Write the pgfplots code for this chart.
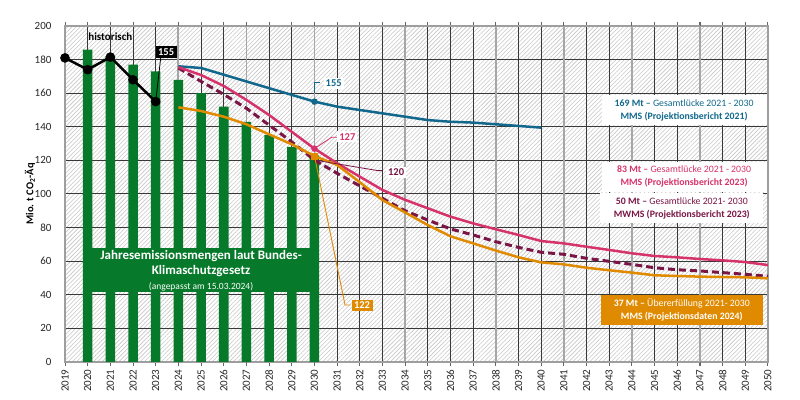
\documentclass[border=0pt]{standalone}
\usepackage{fontspec}
\setmainfont{Carlito}
\usepackage{pgfplots}
\pgfplotsset{compat=1.18}
\usetikzlibrary{patterns.meta}

\definecolor{kgreen}{RGB}{6,122,42}
\definecolor{mblue}{RGB}{18,104,140}
\definecolor{mpink}{RGB}{214,51,108}
\definecolor{mwine}{RGB}{122,22,70}
\definecolor{morange}{RGB}{224,138,0}

\begin{document}
\begin{tikzpicture}
\begin{axis}[
  name=ax,
  scale only axis,
  width=703pt, height=336pt,
  xmin=2019, xmax=2050, ymin=0, ymax=200,
  xtick={2019,...,2050},
  ytick={0,20,...,200},
  grid=major,
  major grid style={line width=1pt, black!78},
  axis line style={line width=1.6pt, black!38},
  tick align=outside,
  xtick style={line width=0.9pt, black!60},
  ytick style={draw=none},
  major tick length=4pt,
  /pgf/number format/assume math mode=true,
  /pgf/number format/1000 sep={},
  x tick label style={rotate=90, anchor=east, font=\fontsize{11}{12}\selectfont, text=black!85},
  y tick label style={font=\fontsize{11}{12}\selectfont, text=black!85, xshift=-6pt},
  ylabel={\textbf{Mio. t CO\textsubscript{2}-Äq}},
  ylabel style={at={(axis description cs:-0.05,0.5)}, anchor=center, font=\fontsize{10.5}{12}\selectfont},
  axis background/.style={fill=white, postaction={pattern={Lines[angle=45,distance=3pt,line width=0.6pt]}, pattern color=black!22}},
  extra x ticks={2024,2027,2030,2034,2038,2041,2044,2047},
  extra x tick labels={,,,,,,,},
  extra x tick style={grid=major, major grid style={line width=1.8pt, black!35}},
]

% Jahresemissionsmengen KSG
\addplot[ybar, bar width=0.42, fill=kgreen, draw=none] coordinates {
  (2020,186) (2021,182) (2022,177) (2023,173) (2024,168) (2025,160)
  (2026,152) (2027,143) (2028,135) (2029,128) (2030,123)
};

\fill[kgreen] (axis cs:2019.8,41.8) rectangle (axis cs:2030.2,68);
\node[text=white, align=center, font=\bfseries\fontsize{13}{15}\selectfont] at (axis cs:2025,54.5)
  {Jahresemissionsmengen laut Bundes-\\Klimaschutzgesetz\\{\mdseries\fontsize{9.5}{15}\selectfont (angepasst am 15.03.2024)}};

% historisch
\addplot[black, line width=2.5pt, mark=*, mark size=3.5pt] coordinates {
  (2019,181) (2020,174) (2021,181.5) (2022,168) (2023,155)
};

% MMS Projektionsbericht 2021
\addplot[mblue, line width=2.5pt] coordinates {
  (2024,176) (2025,175) (2026,171) (2027,167) (2028,163) (2029,159) (2030,155)
  (2031,152) (2032,150) (2033,148) (2034,146) (2035,144) (2036,143)
  (2037,142.5) (2038,141.5) (2039,140.5) (2040,139.5)
};

% MWMS Projektionsbericht 2023
\addplot[mwine, line width=3pt, dash pattern=on 7pt off 4pt] coordinates {
  (2024,175) (2025,167) (2026,159.3) (2027,151) (2028,141) (2029,131) (2030,120.2)
  (2031,112.3) (2032,104.8) (2033,97.4) (2034,90) (2035,84.5) (2036,79.2)
  (2037,75.6) (2038,71.6) (2039,68.2) (2040,65.3) (2041,64.1) (2042,61.7)
  (2043,59.9) (2044,58.1) (2045,56.1) (2046,54.9) (2047,54.2) (2048,53.2)
  (2049,52.2) (2050,51)
};

% MMS Projektionsbericht 2023
\addplot[mpink, line width=2.5pt] coordinates {
  (2024,175.5) (2025,170.8) (2026,164.3) (2027,156) (2028,147) (2029,137) (2030,127)
  (2031,118.3) (2032,110.3) (2033,102.4) (2034,96.5) (2035,91.5) (2036,86.5)
  (2037,82.5) (2038,79) (2039,75.6) (2040,72) (2041,70.6) (2042,68.6)
  (2043,66.7) (2044,64.7) (2045,63.1) (2046,62.3) (2047,61.3) (2048,60.5)
  (2049,59.5) (2050,57.7)
};

% MMS Projektionsdaten 2024
\addplot[morange, line width=2.5pt] coordinates {
  (2024,151.6) (2025,149.4) (2026,146) (2027,141.5) (2028,135.5) (2029,129.6) (2030,122.6)
  (2031,117.3) (2032,107) (2033,96.4) (2034,89) (2035,81.5) (2036,74.8)
  (2037,70.6) (2038,66.3) (2039,62.3) (2040,59.3) (2041,58.1) (2042,56.1)
  (2043,54.6) (2044,53.2) (2045,51.6) (2046,51.2) (2047,50.8) (2048,50.6)
  (2049,50.4) (2050,49.8)
};

% 2030 points
\addplot[only marks, mark=*, mark size=3pt, mblue] coordinates {(2030,155)};
\addplot[only marks, mark=*, mark size=3pt, mpink] coordinates {(2030,127)};
\addplot[only marks, mark=square*, mark size=3pt, morange] coordinates {(2030,122.6)};

% annotations
\node[font=\bfseries\fontsize{11}{12}\selectfont] at (axis cs:2021,193.5) {historisch};

\draw[black, line width=0.8pt] (axis cs:2023,155) -- (axis cs:2023.22,181);
\node[fill=black, text=white, inner sep=2.5pt, font=\bfseries\fontsize{10.5}{12}\selectfont] at (axis cs:2023.46,184.7) {155};

\draw[mblue, line width=0.8pt] (axis cs:2030,160) -- (axis cs:2030,166.4) -- (axis cs:2030.25,166.4);
\node[fill=white, text=mblue, inner sep=2pt, font=\bfseries\fontsize{10.5}{12}\selectfont] at (axis cs:2030.85,166) {155};

\draw[mpink, line width=0.8pt] (axis cs:2030,127) -- (axis cs:2030.76,133.8) -- (axis cs:2031,133.8);
\node[fill=white, text=mpink, inner sep=2pt, font=\bfseries\fontsize{10.5}{12}\selectfont] at (axis cs:2031.45,134) {127};

\draw[mwine, line width=0.8pt] (axis cs:2030,120.2) -- (axis cs:2032.8,113.9) -- (axis cs:2033,113.9);
\node[fill=white, text=mwine, inner sep=2pt, font=\bfseries\fontsize{10.5}{12}\selectfont] at (axis cs:2033.6,113) {120};

\draw[morange, line width=0.9pt] (axis cs:2030,122.6) -- (axis cs:2031.35,33.9) -- (axis cs:2031.6,33.9);
\node[fill=morange, text=white, inner sep=2.5pt, font=\bfseries\fontsize{10.5}{12}\selectfont] at (axis cs:2032.1,33.6) {122};

\node[fill=white, text=mblue, align=center, minimum width=165pt, minimum height=30pt, inner sep=2pt, font=\fontsize{9.8}{13}\selectfont]
  at (axis cs:2046.3,150) {\textbf{169 Mt –} Gesamtlücke 2021 - 2030\\\textbf{MMS (Projektionsbericht 2021)}};
\node[fill=white, text=mpink, align=center, minimum width=165pt, minimum height=30pt, inner sep=2pt, font=\fontsize{9.8}{13}\selectfont]
  at (axis cs:2046.3,110.3) {\textbf{83 Mt –} Gesamtlücke 2021 - 2030\\\textbf{MMS (Projektionsbericht 2023)}};
\node[fill=white, text=mwine, align=center, minimum width=163pt, minimum height=30pt, inner sep=2pt, font=\fontsize{9.8}{13}\selectfont]
  at (axis cs:2046.2,91.5) {\textbf{50 Mt –} Gesamtlücke 2021- 2030\\\textbf{MWMS (Projektionsbericht 2023)}};
\node[fill=morange, text=white, align=center, minimum width=162pt, minimum height=30pt, inner sep=2pt, font=\fontsize{9.8}{13}\selectfont]
  at (axis cs:2046.2,31) {\textbf{37 Mt –} Übererfüllung 2021- 2030\\\textbf{MMS (Projektionsdaten 2024)}};

\end{axis}
\pgfresetboundingbox
\path[use as bounding box] ([xshift=-65pt,yshift=-38pt]ax.south west) rectangle ([xshift=32pt,yshift=26pt]ax.north east);
\end{tikzpicture}
\end{document}
